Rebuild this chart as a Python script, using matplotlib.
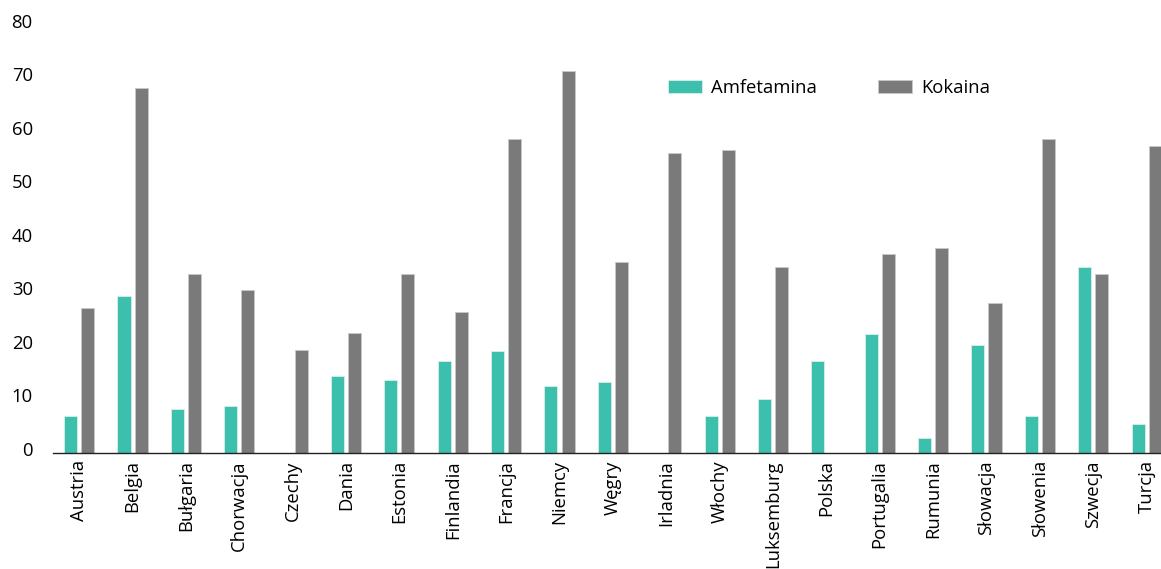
import numpy as np
import matplotlib
matplotlib.use("Agg")
import matplotlib.pyplot as plt
import matplotlib.transforms as mtransforms

countries = ["Austria", "Belgia", "Bułgaria", "Chorwacja", "Czechy", "Dania",
             "Estonia", "Finlandia", "Francja", "Niemcy", "Węgry", "Irladnia",
             "Włochy", "Luksemburg", "Polska", "Portugalia", "Rumunia",
             "Słowacja", "Słowenia", "Szwecja", "Turcja"]
amfetamina = [7.0, 29.5, 8.2, 8.9, 0, 14.4, 13.8, 17.2, 19.2, 12.6, 13.4, 0,
              7.0, 10.2, 17.2, 22.3, 2.8, 20.2, 7.0, 34.9, 5.4]
kokaina = [27.2, 68.4, 33.5, 30.6, 19.3, 22.5, 33.6, 26.5, 58.8, 71.5, 35.8, 56.2,
           56.8, 34.9, 0, 37.3, 38.4, 28.1, 58.8, 33.5, 57.5]
yticks = [0, 10, 20, 30, 40, 50, 60, 70, 80]

plt.rcParams['font.family'] = ['Open Sans', 'DejaVu Sans']

fig = plt.figure(figsize=(11.61, 5.69), dpi=100)
ax = fig.add_axes([53 / 1161, 1 - 453.3 / 569, 1 - 53 / 1161, (453.3 - 25.5) / 569])

x = np.arange(len(countries))
w = 0.245
off = 0.16
ax.bar(x - off, amfetamina, w, color="#3cbfad", edgecolor="#d8efea", linewidth=0.6,
       label="Amfetamina")
ax.bar(x + off, kokaina, w, color="#7a7a7a", edgecolor="#c8c8c8", linewidth=0.6,
       label="Kokaina")

ax.set_xlim(-0.49, 20.27)
ax.set_ylim(0, 80)
ax.set_yticks(yticks)
ax.set_xticks(x)
ax.set_xticklabels(countries, rotation=90, fontsize=13.3)
ax.tick_params(axis="y", length=0, pad=14.5, labelsize=13.3)
ax.tick_params(axis="x", length=0, pad=5)
for lab in ax.get_yticklabels():
    lab.set_transform(lab.get_transform() +
                      mtransforms.ScaledTranslation(0, 4.5 / 100, fig.dpi_scale_trans))

for s in ["top", "right", "left"]:
    ax.spines[s].set_visible(False)
ax.spines["bottom"].set_linewidth(1.0)
ax.spines["bottom"].set_color("#222222")

ax.legend(loc="center left", bbox_to_anchor=((668 - 53) / 1108, (453.3 - 88) / 427.8),
          ncol=2, frameon=False, fontsize=13.3, handlelength=1.85, handleheight=0.65,
          columnspacing=3.3, handletextpad=0.5, borderpad=0, borderaxespad=0)

fig.savefig("out.png", dpi=100)
